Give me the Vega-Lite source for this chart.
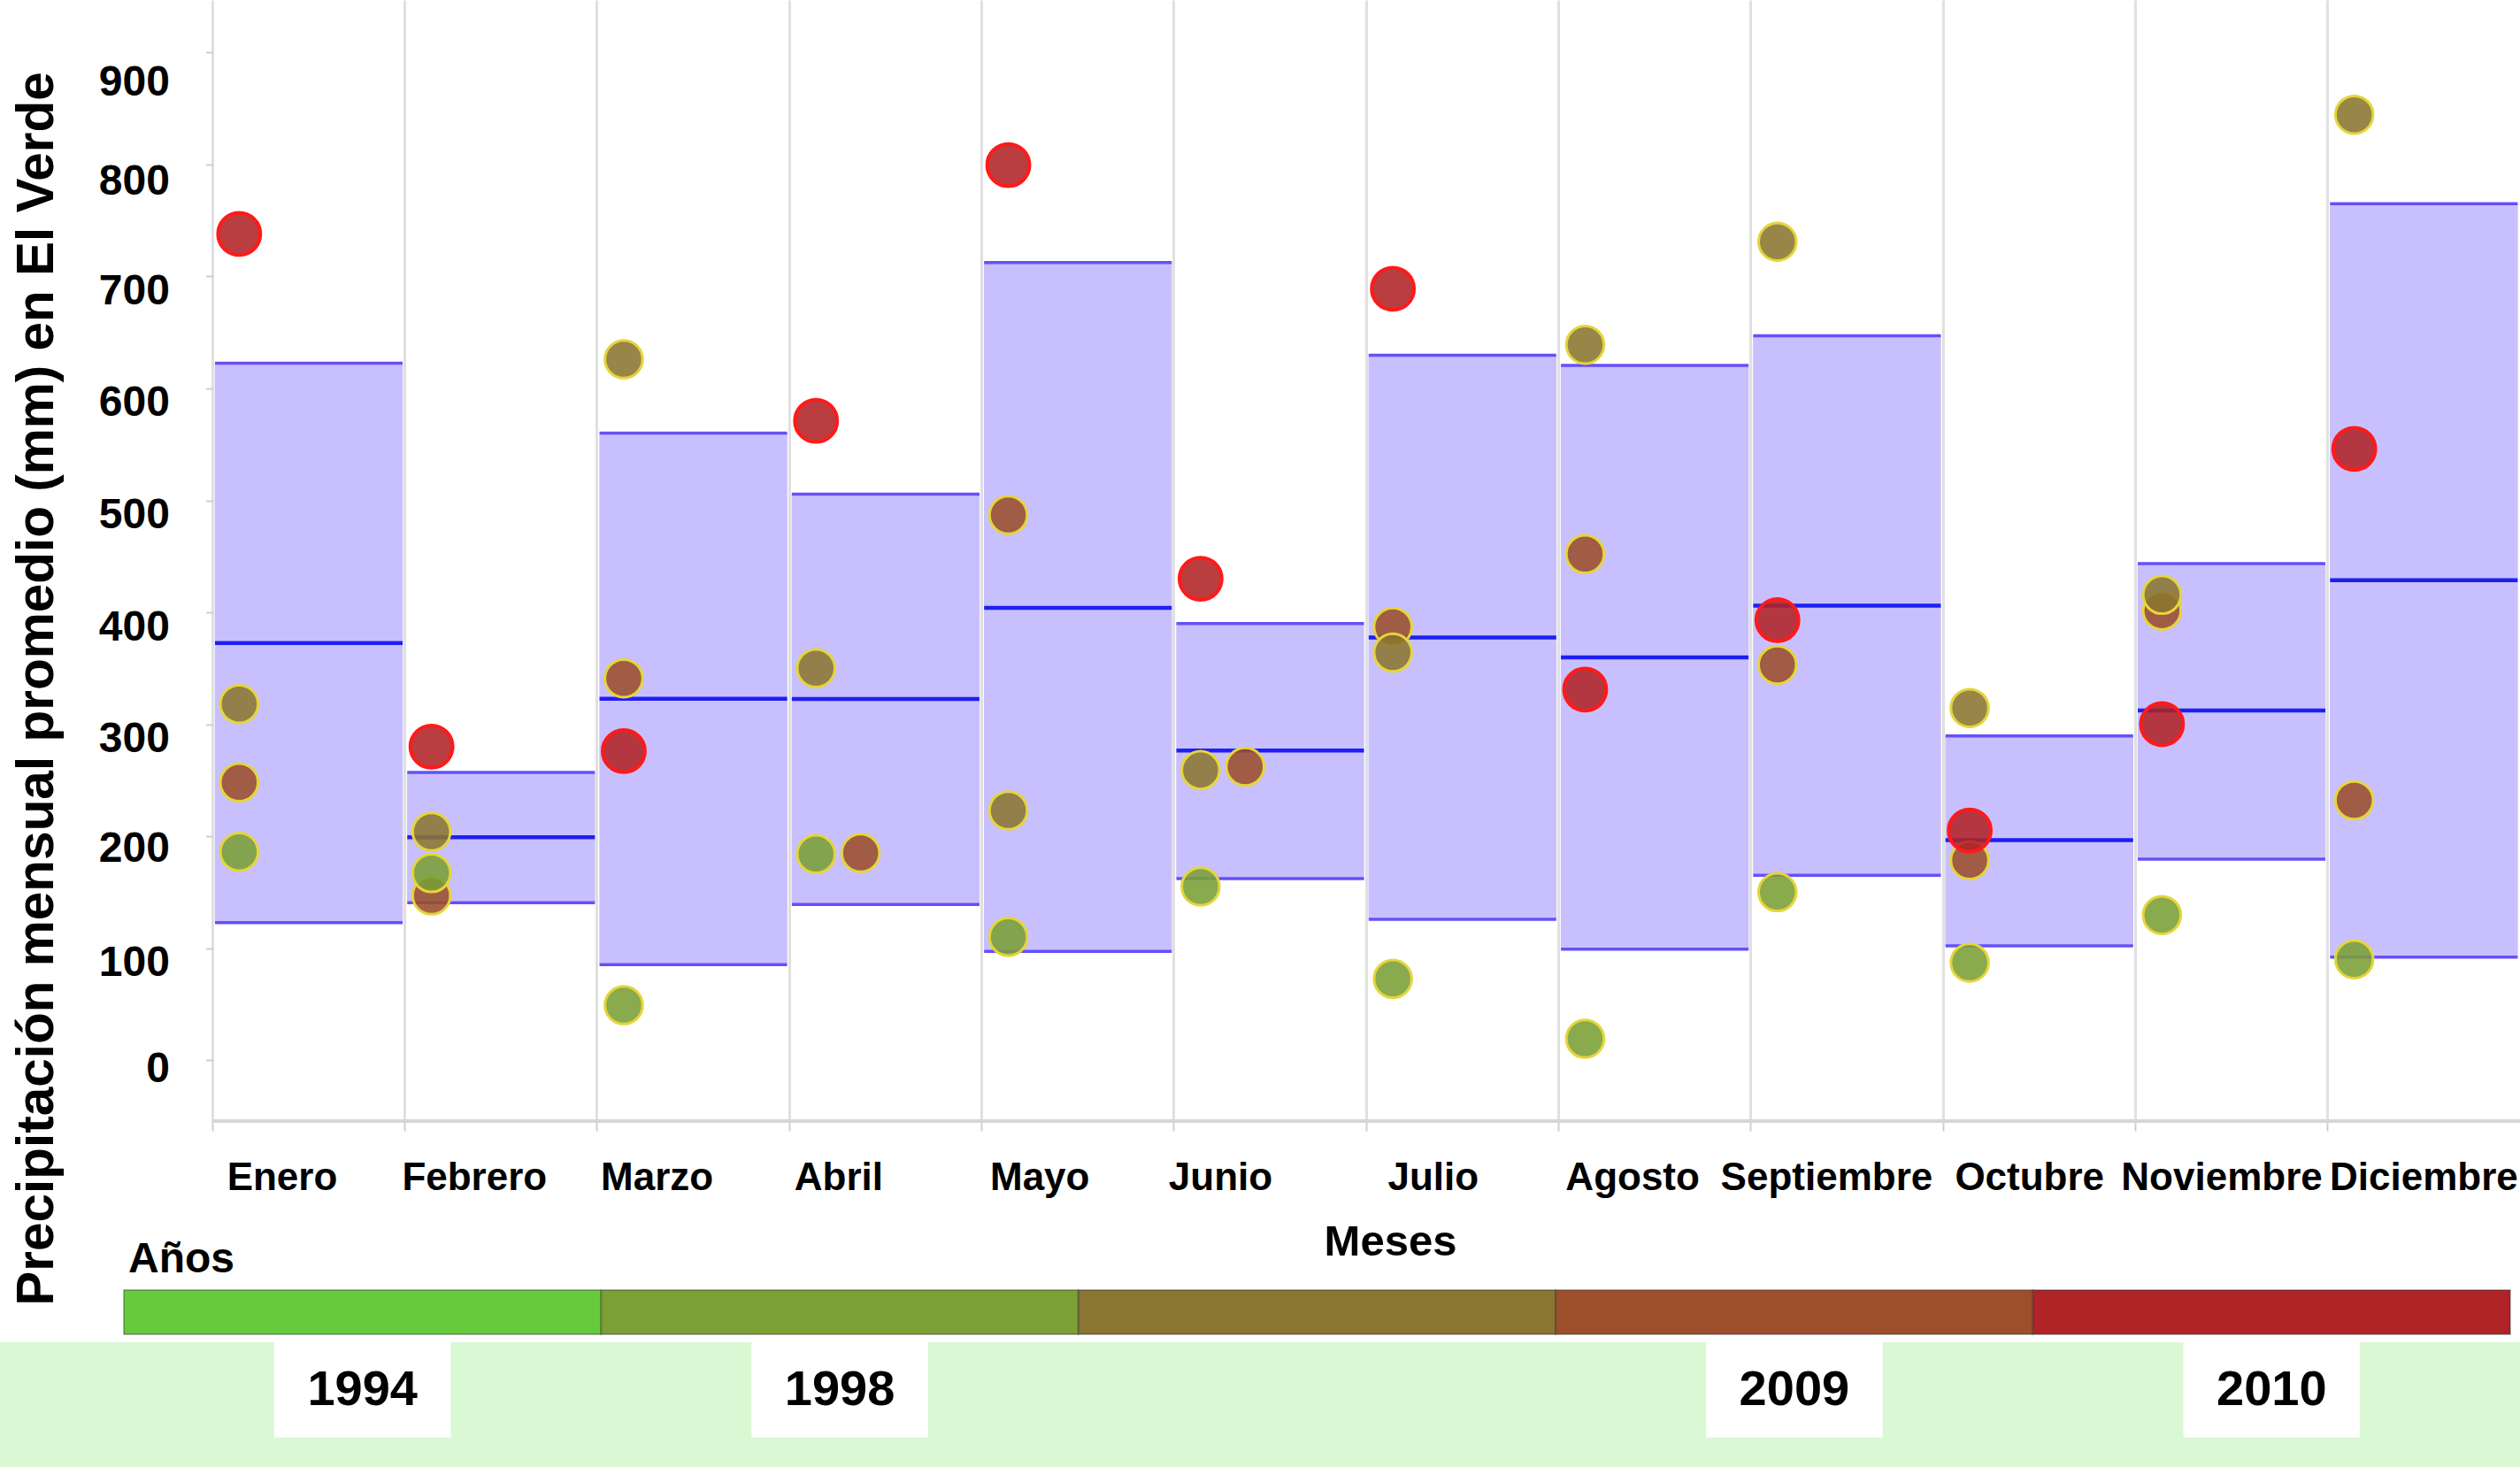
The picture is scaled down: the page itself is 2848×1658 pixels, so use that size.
{
  "$schema": "https://vega.github.io/schema/vega-lite/v6.json",
  "background": "white",
  "padding": 0,
  "bounds": "flush",
  "spacing": 191,
  "config": {"view": {"stroke": null}},
  "resolve": {"scale": {"color": "independent", "fill": "independent"}},
  "datasets": {
    "cajas": [
      {"mes": "Enero", "min": 122.7, "mediana": 372.5, "max": 622.5},
      {"mes": "Febrero", "min": 140.5, "mediana": 199, "max": 257},
      {"mes": "Marzo", "min": 85.3, "mediana": 322.7, "max": 560},
      {"mes": "Abril", "min": 139, "mediana": 322.5, "max": 505.5},
      {"mes": "Mayo", "min": 97, "mediana": 404, "max": 712.5},
      {"mes": "Junio", "min": 162, "mediana": 276.5, "max": 390},
      {"mes": "Julio", "min": 125.7, "mediana": 377.5, "max": 629.6},
      {"mes": "Agosto", "min": 99, "mediana": 359.7, "max": 620.5},
      {"mes": "Septiembre", "min": 165, "mediana": 406, "max": 647},
      {"mes": "Octubre", "min": 102, "mediana": 196.5, "max": 289.5},
      {"mes": "Noviembre", "min": 179.5, "mediana": 312.2, "max": 443.5},
      {"mes": "Diciembre", "min": 92, "mediana": 428.6, "max": 765}
    ],
    "puntos": [
      {"mes": "Enero", "anio": 2009, "mm": 248},
      {"mes": "Febrero", "anio": 2009, "mm": 147},
      {"mes": "Marzo", "anio": 2009, "mm": 341},
      {"mes": "Abril", "anio": 2009, "mm": 185},
      {"mes": "Mayo", "anio": 2009, "mm": 487},
      {"mes": "Junio", "anio": 2009, "mm": 262},
      {"mes": "Julio", "anio": 2009, "mm": 387},
      {"mes": "Agosto", "anio": 2009, "mm": 452},
      {"mes": "Septiembre", "anio": 2009, "mm": 353},
      {"mes": "Octubre", "anio": 2009, "mm": 178.5},
      {"mes": "Noviembre", "anio": 2009, "mm": 401.5},
      {"mes": "Diciembre", "anio": 2009, "mm": 232},
      {"mes": "Enero", "anio": 1998, "mm": 318},
      {"mes": "Febrero", "anio": 1998, "mm": 204},
      {"mes": "Marzo", "anio": 1998, "mm": 626},
      {"mes": "Abril", "anio": 1998, "mm": 350},
      {"mes": "Mayo", "anio": 1998, "mm": 223},
      {"mes": "Junio", "anio": 1998, "mm": 259},
      {"mes": "Julio", "anio": 1998, "mm": 364},
      {"mes": "Agosto", "anio": 1998, "mm": 639},
      {"mes": "Septiembre", "anio": 1998, "mm": 731},
      {"mes": "Octubre", "anio": 1998, "mm": 314.5},
      {"mes": "Noviembre", "anio": 1998, "mm": 415.6},
      {"mes": "Diciembre", "anio": 1998, "mm": 844.5},
      {"mes": "Enero", "anio": 1994, "mm": 186},
      {"mes": "Febrero", "anio": 1994, "mm": 167},
      {"mes": "Marzo", "anio": 1994, "mm": 49},
      {"mes": "Abril", "anio": 1994, "mm": 184},
      {"mes": "Mayo", "anio": 1994, "mm": 110},
      {"mes": "Junio", "anio": 1994, "mm": 155},
      {"mes": "Julio", "anio": 1994, "mm": 72.5},
      {"mes": "Agosto", "anio": 1994, "mm": 19},
      {"mes": "Septiembre", "anio": 1994, "mm": 150},
      {"mes": "Octubre", "anio": 1994, "mm": 87},
      {"mes": "Noviembre", "anio": 1994, "mm": 129.5},
      {"mes": "Diciembre", "anio": 1994, "mm": 90},
      {"mes": "Enero", "anio": 2010, "mm": 738},
      {"mes": "Febrero", "anio": 2010, "mm": 280},
      {"mes": "Marzo", "anio": 2010, "mm": 276},
      {"mes": "Abril", "anio": 2010, "mm": 571},
      {"mes": "Mayo", "anio": 2010, "mm": 799.5},
      {"mes": "Junio", "anio": 2010, "mm": 430},
      {"mes": "Julio", "anio": 2010, "mm": 689},
      {"mes": "Agosto", "anio": 2010, "mm": 331},
      {"mes": "Septiembre", "anio": 2010, "mm": 393},
      {"mes": "Octubre", "anio": 2010, "mm": 205},
      {"mes": "Noviembre", "anio": 2010, "mm": 300},
      {"mes": "Diciembre", "anio": 2010, "mm": 546}
    ],
    "tramos": [
      {"tramo": 1, "etiqueta": "1994"},
      {"tramo": 2, "etiqueta": "1998"},
      {"tramo": 3, "etiqueta": ""},
      {"tramo": 4, "etiqueta": "2009"},
      {"tramo": 5, "etiqueta": "2010"}
    ]
  },
  "vconcat": [
    {
      "width": 2848,
      "height": 1267,
      "layer": [
        {
          "data": {"name": "cajas"},
          "mark": {"type": "bar", "width": {"band": 0.978}, "color": "#C8C0FE"},
          "encoding": {
            "x": {
              "field": "mes", "type": "nominal",
              "scale": {"type": "band", "domain": ["Enero","Febrero","Marzo","Abril","Mayo","Junio","Julio","Agosto","Septiembre","Octubre","Noviembre","Diciembre"], "paddingInner": 0, "paddingOuter": 0.553, "align": 1},
              "axis": {
                "title": "Meses",
                "bandPosition": 0,
                "grid": true, "gridColor": "#E0E0E0", "gridWidth": 3,
                "domain": false,
                "ticks": true, "tickColor": "#CFCFCF", "tickSize": 11, "tickWidth": 2,
                "labelFont": "Liberation Sans", "labelFontSize": 44, "labelFontWeight": "bold", "labelColor": "#000000",
                "labelOffset": {"condition": [
                  {"test": "datum.value === 'Marzo'", "value": -41},
                  {"test": "datum.value === 'Abril'", "value": -53},
                  {"test": "datum.value === 'Mayo'", "value": -43},
                  {"test": "datum.value === 'Junio'", "value": -56},
                  {"test": "datum.value === 'Julio'", "value": -33},
                  {"test": "datum.value === 'Agosto'", "value": -25},
                  {"test": "datum.value === 'Septiembre'", "value": -23},
                  {"test": "datum.value === 'Octubre'", "value": -11},
                  {"test": "datum.value === 'Noviembre'", "value": -11},
                  {"test": "datum.value === 'Diciembre'", "value": 0}
                ], "value": -30},
                "labelPadding": 66, "labelBaseline": "alphabetic", "labelAngle": 0,
                "labelOverlap": false, "labelBound": false, "labelFlush": false, "labelLimit": 0,
                "titleFont": "Liberation Sans", "titleFontSize": 49, "titleFontWeight": "bold", "titleColor": "#000000",
                "titleX": 1571, "titleY": 151, "titleBaseline": "alphabetic", "titleAlign": "center"
              }
            },
            "y": {
              "field": "max", "type": "quantitative",
              "scale": {"domain": [-54.5, 947], "nice": false, "zero": false},
              "axis": {
                "title": "Precipitación mensual promedio (mm) en El Verde",
                "offset": -240.4,
                "values": [0, 100, 200, 300, 400, 500, 600, 700, 800, 900],
                "grid": false, "domain": false,
                "ticks": true, "tickColor": "#CFCFCF", "tickSize": 8, "tickWidth": 2,
                "labelFont": "Liberation Sans", "labelFontSize": 48, "labelFontWeight": "bold", "labelColor": "#000000",
                "labelPadding": 41,
                "labelOffset": {"condition": [
                  {"test": "datum.value === 900", "value": 34},
                  {"test": "datum.value === 800", "value": 20},
                  {"test": "datum.value === 200", "value": 14},
                  {"test": "datum.value === 0", "value": 10}
                ], "value": 17},
                "labelOverlap": false, "labelFlush": false,
                "titleFont": "Liberation Sans", "titleFontSize": 58.5, "titleFontWeight": "bold", "titleColor": "#000000",
                "titleX": -181, "titleY": 778, "titleAngle": -90, "titleAlign": "center", "titleBaseline": "alphabetic"
              }
            },
            "y2": {"field": "min"}
          }
        },
        {
          "data": {"name": "cajas"},
          "mark": {"type": "tick", "orient": "horizontal", "color": "#6650F8", "thickness": 3.5, "size": 212, "opacity": 1},
          "encoding": {
            "x": {"field": "mes", "type": "nominal"},
            "y": {"field": "max", "type": "quantitative"}
          }
        },
        {
          "data": {"name": "cajas"},
          "mark": {"type": "tick", "orient": "horizontal", "color": "#6650F8", "thickness": 3.5, "size": 212, "opacity": 1},
          "encoding": {
            "x": {"field": "mes", "type": "nominal"},
            "y": {"field": "min", "type": "quantitative"}
          }
        },
        {
          "data": {"name": "cajas"},
          "mark": {"type": "tick", "orient": "horizontal", "color": "#1F1FF2", "thickness": 4.5, "size": 212, "opacity": 1},
          "encoding": {
            "x": {"field": "mes", "type": "nominal"},
            "y": {"field": "mediana", "type": "quantitative"}
          }
        },
        {
          "data": {"name": "cajas"},
          "mark": {"type": "tick", "orient": "horizontal", "color": "#D6D6D6", "thickness": 4, "size": 218, "opacity": 1},
          "encoding": {
            "x": {"field": "mes", "type": "nominal"},
            "y": {"value": "height"}
          }
        },
        {
          "data": {"name": "puntos"},
          "transform": [{"filter": "!((datum.mes === 'Abril' || datum.mes === 'Junio') && datum.anio === 2009)"}],
          "mark": {"type": "circle", "opacity": 1, "fillOpacity": 0.88, "strokeOpacity": 1},
          "encoding": {
            "x": {"field": "mes", "type": "nominal", "bandPosition": 0.138},
            "y": {"field": "mm", "type": "quantitative"},
            "fill": {"field": "anio", "type": "ordinal", "scale": {"domain": [1994, 1998, 2009, 2010], "range": ["#7A9E35", "#8A7530", "#9A4D2A", "#B02226"]}, "legend": null},
            "size": {"condition": {"test": "datum.anio === 2010", "value": 2290}, "value": 1810},
            "stroke": {"condition": {"test": "datum.anio === 2010", "value": "#FF1A1A"}, "value": "#E5D53A"},
            "strokeWidth": {"condition": {"test": "datum.anio === 2010", "value": 4}, "value": 3}
          }
        },
        {
          "data": {"name": "puntos"},
          "transform": [{"filter": "(datum.mes === 'Abril' || datum.mes === 'Junio') && datum.anio === 2009"}],
          "mark": {"type": "circle", "opacity": 1, "fillOpacity": 0.88, "strokeOpacity": 1, "stroke": "#E5D53A", "strokeWidth": 3, "size": 1810},
          "encoding": {
            "x": {"field": "mes", "type": "nominal", "bandPosition": 0.37},
            "y": {"field": "mm", "type": "quantitative"},
            "fill": {"field": "anio", "type": "ordinal", "legend": null}
          }
        }
      ]
    },
    {
      "bounds": "flush",
      "spacing": 9,
      "resolve": {"scale": {"color": "independent"}},
      "vconcat": [
        {
          "width": 2848,
          "height": 50,
          "title": {
            "text": "Años", "anchor": "start", "dx": 145, "dy": 43, "offset": 14,
            "font": "Liberation Sans", "fontSize": 48, "fontWeight": "bold", "color": "#000000", "baseline": "alphabetic"
          },
          "data": {"name": "tramos"},
          "mark": {"type": "rect", "stroke": "#2A2A2A", "strokeOpacity": 0.35, "strokeWidth": 2},
          "encoding": {
            "x": {"field": "tramo", "type": "ordinal", "scale": {"type": "band", "domain": [1, 2, 3, 4, 5], "paddingInner": 0, "paddingOuter": 0.14, "align": 0.927}, "axis": null},
            "color": {"field": "tramo", "type": "ordinal", "scale": {"domain": [1, 2, 3, 4, 5], "range": ["#66CA3C", "#7BA036", "#8A7531", "#9D4F2C", "#B02326"]}, "legend": null}
          }
        },
        {
          "width": 2848,
          "height": 141,
          "view": {"fill": "#D9F8D3", "stroke": null},
          "data": {"name": "tramos"},
          "transform": [{"filter": "datum.etiqueta !== ''"}],
          "layer": [
            {
              "mark": {"type": "bar", "width": {"band": 0.37}, "color": "#FFFFFF"},
              "encoding": {
                "x": {"field": "tramo", "type": "ordinal", "scale": {"type": "band", "domain": [1, 2, 3, 4, 5], "paddingInner": 0, "paddingOuter": 0.14, "align": 0.927}, "axis": null},
                "y": {"datum": 1, "type": "quantitative", "scale": {"domain": [0, 1], "nice": false, "zero": false}, "axis": null},
                "y2": {"datum": 0.235}
              }
            },
            {
              "mark": {"type": "text", "font": "Liberation Sans", "fontSize": 56, "fontWeight": "bold", "color": "#000000", "baseline": "middle", "align": "center"},
              "encoding": {
                "x": {"field": "tramo", "type": "ordinal"},
                "y": {"datum": 0.62, "type": "quantitative"},
                "text": {"field": "etiqueta"}
              }
            }
          ]
        }
      ]
    }
  ]
}
